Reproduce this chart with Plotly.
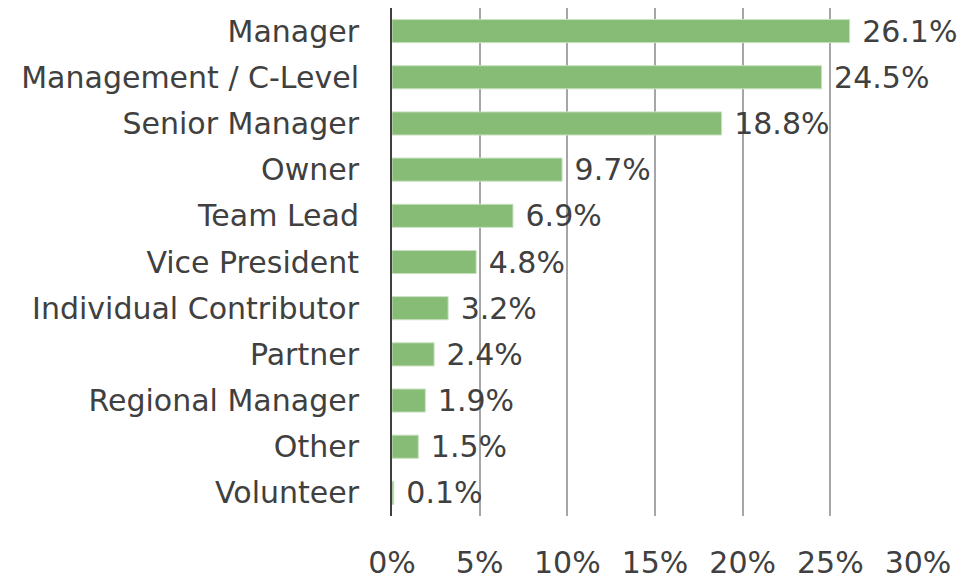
import plotly.graph_objects as go

categories = ["Manager", "Management / C-Level", "Senior Manager", "Owner", "Team Lead",
              "Vice President", "Individual Contributor", "Partner", "Regional Manager",
              "Other", "Volunteer"]
values = [26.1, 24.5, 18.8, 9.7, 6.9, 4.8, 3.2, 2.4, 1.9, 1.5, 0.1]
x_ticks = [0, 5, 10, 15, 20, 25, 30]
x_tick_labels = ["0%", "5%", "10%", "15%", "20%", "25%", "30%"]

FONT = "DejaVu Sans"
TXT = "#404040"
FS = 30

fig = go.Figure(go.Bar(
    x=values, y=categories, orientation="h",
    marker=dict(color="#86BC76", line=dict(color="#C9E0C0", width=1)),
    text=values, texttemplate=" %{x:.1f}%", textposition="outside",
    textfont=dict(family=FONT, size=FS, color=TXT),
    constraintext="none",
    cliponaxis=False,
))

fig.update_layout(
    width=958, height=571,
    margin=dict(l=384, r=48, t=0, b=63),
    paper_bgcolor="white", plot_bgcolor="white",
    bargap=0.5, showlegend=False,
    font=dict(family=FONT, size=FS, color=TXT),
    uniformtext=dict(minsize=FS, mode="show"),
)
fig.update_xaxes(
    range=[0, 30], tickvals=x_ticks, ticktext=x_tick_labels,
    showgrid=True, gridcolor="#A6A6A6", gridwidth=2,
    zeroline=False, showline=False, ticks="", ticklabelstandoff=26,
    tickfont=dict(family=FONT, size=FS, color=TXT),
    layer="above traces",
)
fig.update_yaxes(
    categoryorder="array", categoryarray=categories[::-1],
    showgrid=False, zeroline=False,
    showline=True, linecolor="#404040", linewidth=2,
    ticks="", ticklabelstandoff=25,
    tickfont=dict(family=FONT, size=FS, color=TXT),
)

fig.write_html("out.html")
